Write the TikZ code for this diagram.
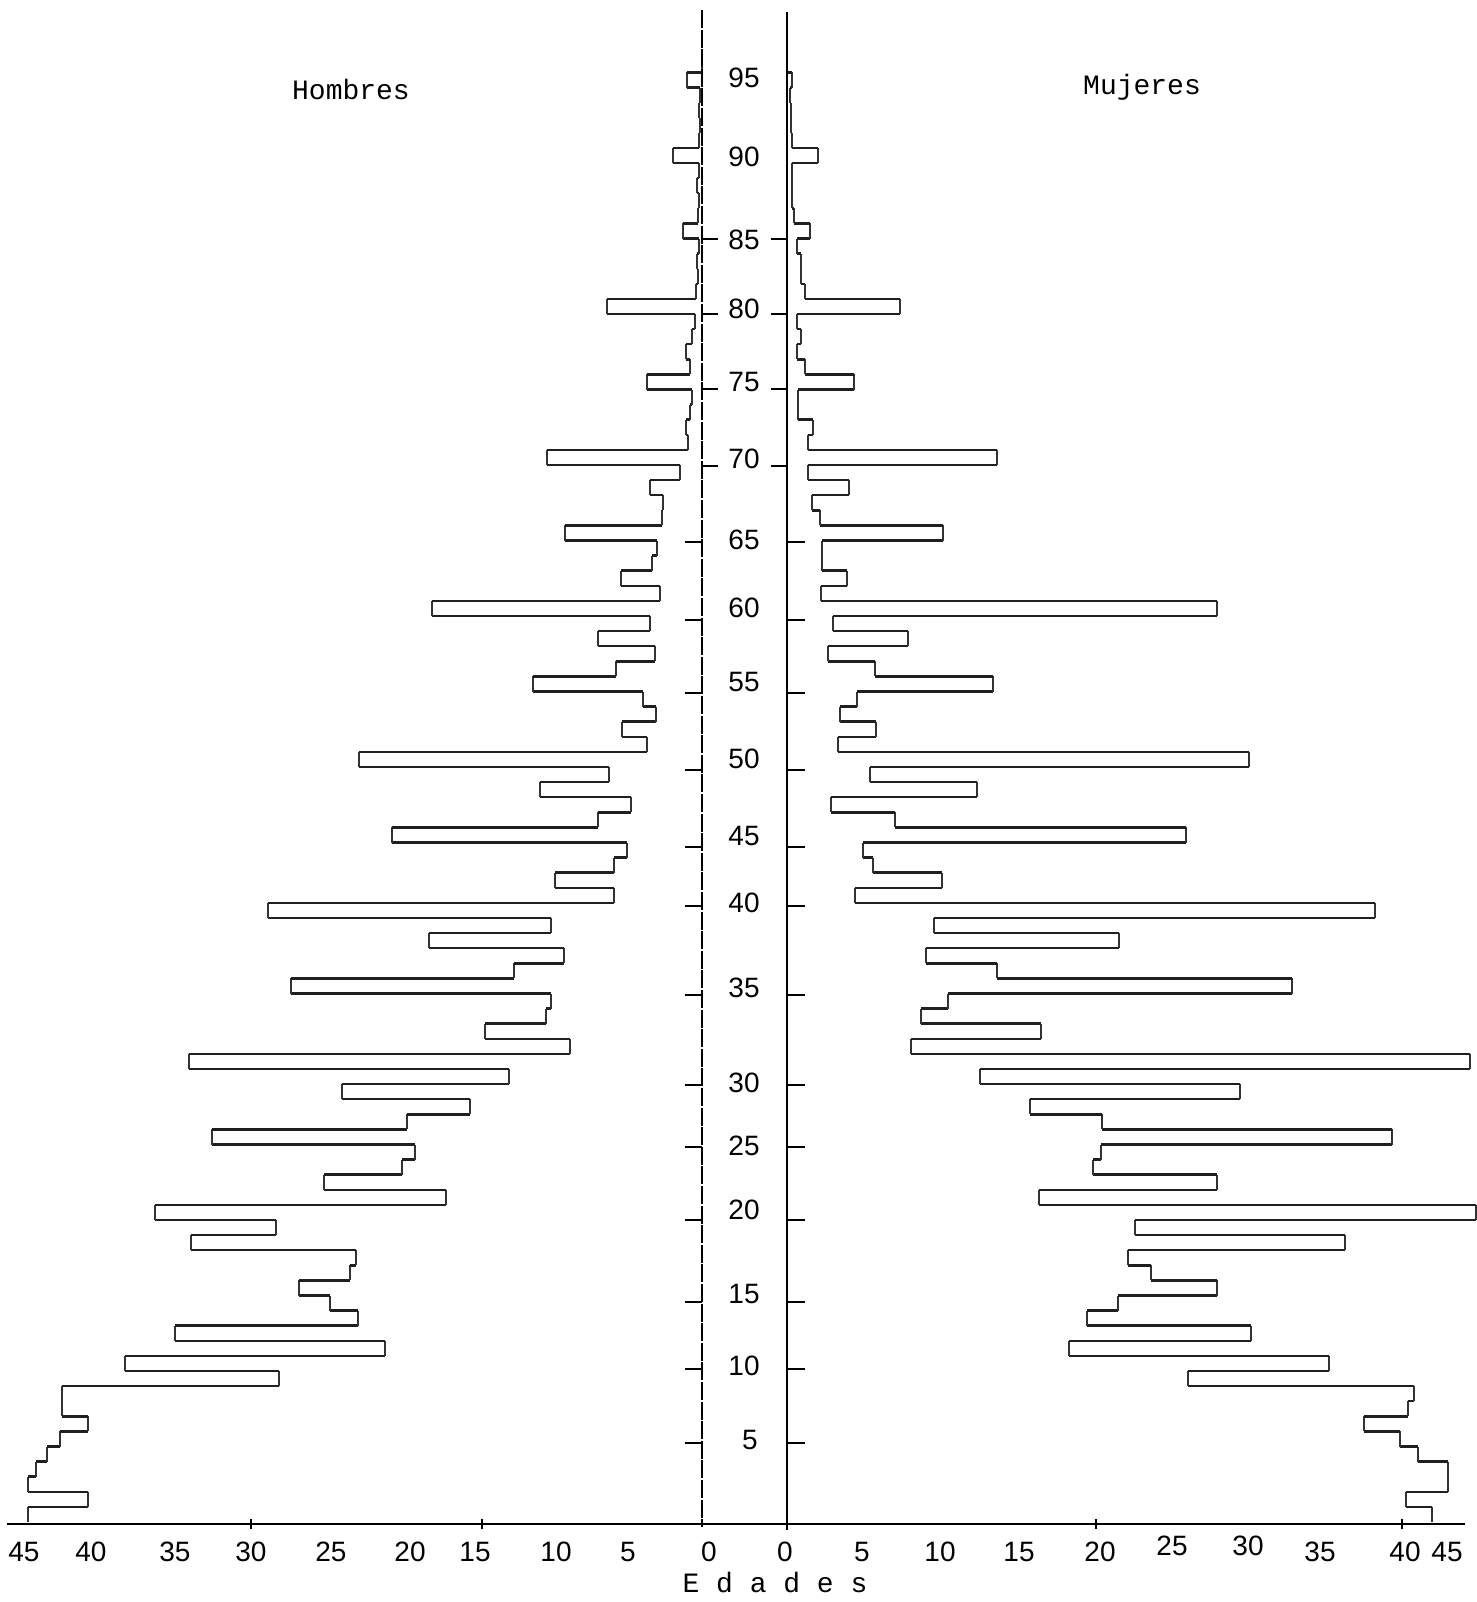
\documentclass[tikz,border=0pt]{standalone}
\usepackage{fontspec}
\setmainfont{Liberation Mono}
\newfontfamily\numfont{Liberation Sans}
\begin{document}
\begin{tikzpicture}[x=0.5pt,y=-0.5pt,
  hline/.style={line width=1.25pt, black!88},
  vline/.style={line width=0.6pt, black!80},
  tickmark/.style={line width=1.4pt},
  num/.style={font=\numfont\fontsize{14}{16}\selectfont, inner sep=0pt},
  tw/.style={font=\fontsize{14}{16}\selectfont, inner sep=0pt}]
\useasboundingbox[fill=white] (0,0) rectangle (1477,1602);

% left (Hombres) step outline, ages 0..96
\foreach \v [count=\a from 0, remember=\v as \p (initially 28)] in
 {28,88,28,36,47,60,88,62,62,279,125,385,175,358,330,299,350,356,191,276,
  155,446,324,402,415,212,407,470,342,509,189,570,485,546,551,291,514,564,429,551,
  268,614,555,614,627,392,598,631,540,609,359,647,622,656,643,533,616,655,598,650,
  432,660,621,652,657,565,662,663,650,680,547,688,686,690,692,647,690,686,692,695,
  607,696,698,697,699,683,698,699,697,699,673,699,700,699,700,687,702} {
  \pgfmathsetmacro\ya{1522-15.1*\a}
  \pgfmathsetmacro\yb{1522-15.1*(\a+1)}
  \draw[hline] (\p,\ya) -- (\v,\ya);
  \draw[vline] (\v,\ya) -- (\v,\yb);
}

% right (Mujeres) step outline, ages 0..96
\foreach \v [count=\a from 0, remember=\v as \p (initially 1432)] in
 {1432,1406,1448,1448,1418,1400,1364,1408,1414,1188,1329,1069,1251,1087,1118,1217,1151,1128,1345,1135,
  1476,1039,1217,1093,1101,1392,1102,1030,1240,980,1470,911,1041,921,948,1292,997,926,1119,934,
  1375,855,942,873,863,1186,895,831,977,870,1249,838,876,840,857,993,875,828,908,833,
  1217,821,847,822,822,943,820,812,849,808,997,808,813,798,798,854,805,797,801,797,
  900,805,801,801,797,810,794,792,792,792,818,792,791,791,790,792,787} {
  \pgfmathsetmacro\ya{1522-15.1*\a}
  \pgfmathsetmacro\yb{1522-15.1*(\a+1)}
  \draw[hline] (\p,\ya) -- (\v,\ya);
  \draw[vline] (\v,\ya) -- (\v,\yb);
}

% axes
\draw[line width=0.9pt, dash pattern=on 9pt off 0.8pt] (702,10) -- (702,1527);
\draw[line width=1.3pt] (787,12) -- (787,1530);
\draw[line width=0.9pt] (7,1524) -- (1465,1524);
\foreach \x in {251,482,1096,1402} \draw[line width=0.6pt] (\x,1519) -- (\x,1529);

% age ticks
\foreach \y in {239,314,389,466} {
  \draw[tickmark] (702,\y) -- (718,\y);
  \draw[tickmark] (771,\y) -- (787,\y);
}
\foreach \y in {542,620,693,770,847,906,995,1085,1147,1220,1302,1369,1443} {
  \draw[tickmark] (685,\y) -- (702,\y);
  \draw[tickmark] (787,\y) -- (805,\y);
}

% age labels
\foreach \t/\y in {95/78,90/157,85/240,80/309,75/382,70/459,65/540,60/608,55/682,
  50/759,45/836,40/903,35/988,30/1083,25/1146,20/1210,15/1294,10/1366}
  \node[num] (age\t) at (744,\y) {\t};
\node[num] (age5) at (750,1440) {5};

% horizontal scale labels
\foreach \t/\x in {45/24,40/91,35/175,30/251,25/331,20/410,15/475,10/556,5/628,0/709}
  \node[num] (h\t) at (\x,1552) {\t};
\foreach \t/\x/\y in {0/785/1552,5/862/1552,10/940/1552,15/1019/1552,20/1100/1552,
  25/1172/1546,30/1248/1546,35/1320/1552,40/1405/1552,45/1447/1552}
  \node[num] (m\t) at (\x,\y) {\t};

% titles
\node[tw] (hombres) at (351,89) {Hombres};
\node[tw] (mujeres) at (1142,87) {Mujeres};
\node[tw] (edades) at (775,1583) {E d a d e s};
\end{tikzpicture}
\end{document}
